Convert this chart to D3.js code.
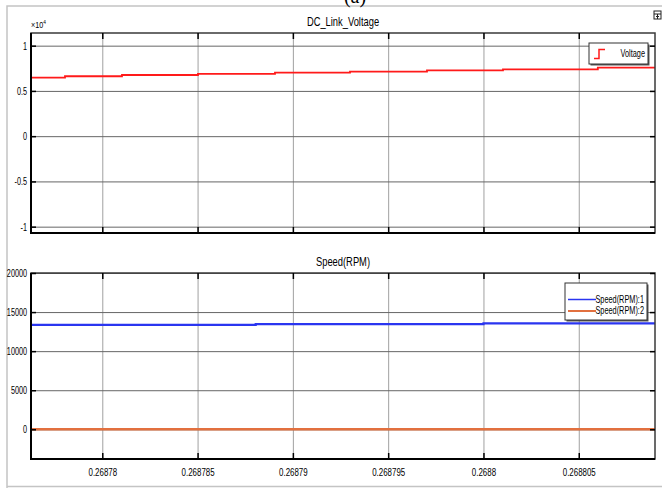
<!DOCTYPE html>
<html>
<head>
<meta charset="utf-8">
<script src="https://cdn.jsdelivr.net/npm/d3@7"></script>
<style>
  body { margin: 0; background: #fff; }
  svg { display: block; }
  text { font-family: "Liberation Sans", Arial, sans-serif; fill: #000; }
  .tick text { font-size: 11px; }
</style>
</head>
<body>
<svg width="662" height="488"></svg>
<script>
// time axis (s)
const xDomain = [0.26877626, 0.268809];
const xTicks = [0.26878, 0.268785, 0.26879, 0.268795, 0.2688, 0.268805];
const xTickLabels = ['0.26878', '0.268785', '0.26879', '0.268795', '0.2688', '0.268805'];

// DC link voltage, stepped (V)
const voltTime = [0.26877626, 0.268778043, 0.268781034, 0.268785021, 0.268789061,
  0.268792997, 0.268797036, 0.268801024, 0.268806, 0.268809];
const voltValue = [6460, 6620, 6760, 6880, 7020, 7130, 7280, 7390, 7570, 7570];
const voltTicks = [-10000, -5000, 0, 5000, 10000];
const voltTickLabels = ['-1', '-0.5', '0', '0.5', '1'];

// speed (RPM)
const speedTime = [0.26877626, 0.26878805, 0.2688, 0.268809];
const speed1 = [13350, 13450, 13560, 13560];
const speed2 = [0, 0, 0, 0];
const speedTicks = [0, 5000, 10000, 15000, 20000];
const speedTickLabels = ['0', '5000', '10000', '15000', '20000'];

const svg = d3.select('svg');

// squeeze text horizontally, the scope font is a narrow one
function condense(sel, k) {
  sel.each(function () {
    const t = d3.select(this);
    const xv = +t.attr('x') || 0;
    t.attr('x', xv / k).attr('transform', `scale(${k},1)`);
  });
}

// outer figure frame
svg.append('path')
  .attr('d', 'M7,488 V6 H662 M7,486.5 H662')
  .attr('fill', 'none')
  .attr('stroke', '#c4c4c4')
  .attr('stroke-width', 1.5);

svg.append('text')
  .attr('x', 355).attr('y', 3)
  .attr('text-anchor', 'middle')
  .style('font-family', '"Liberation Serif", serif')
  .style('font-size', '20px')
  .text('(a)');

// small icon at top right
const icon = svg.append('g').attr('transform', 'translate(654, 11)');
icon.append('rect').attr('width', 7).attr('height', 8)
  .attr('fill', '#fff').attr('stroke', '#222').attr('stroke-width', 1);
icon.append('path').attr('d', 'M0,3 H7 M3.5,3 V8 M2,5.5 H5')
  .attr('stroke', '#222').attr('stroke-width', 1);

const left = 31, right = 655;
const x = d3.scaleLinear().domain(xDomain).range([left, right]);

function panel(opts) {
  const y = d3.scaleLinear().domain(opts.yDomain).range([opts.bottom, opts.top]);
  const g = svg.append('g');
  const h = opts.bottom - opts.top;
  const w = right - left;

  // vertical grid
  g.append('g')
    .attr('transform', `translate(0,${opts.bottom})`)
    .call(d3.axisBottom(x).tickValues(xTicks).tickSize(-h).tickFormat(''))
    .call(a => a.select('.domain').remove())
    .call(a => a.selectAll('line').attr('stroke', '#a0a0a0').attr('stroke-width', 1));

  // horizontal grid
  g.append('g')
    .attr('transform', `translate(${left},0)`)
    .call(d3.axisLeft(y).tickValues(opts.yTicks).tickSize(-w).tickFormat(''))
    .call(a => a.select('.domain').remove())
    .call(a => a.selectAll('line').attr('stroke', '#666').attr('stroke-width', 1));

  // series
  opts.series.forEach(s => {
    const line = d3.line()
      .x((d, i) => x(opts.xs[i]))
      .y(d => y(d))
      .curve(d3.curveStepAfter);
    g.append('path')
      .datum(s.values)
      .attr('fill', 'none')
      .attr('stroke', s.color)
      .attr('stroke-width', s.width)
      .attr('d', line);
  });

  // box
  g.append('rect')
    .attr('x', left).attr('y', opts.top)
    .attr('width', w).attr('height', h)
    .attr('fill', 'none').attr('stroke', '#3a3a3a').attr('stroke-width', 1.5);
  g.append('path')
    .attr('d', `M${left},${opts.top} V${opts.bottom} H${right}`)
    .attr('fill', 'none').attr('stroke', '#000').attr('stroke-width', 2);

  // inward ticks
  const yAx = g.append('g')
    .attr('transform', `translate(${left},0)`)
    .call(d3.axisLeft(y).tickValues(opts.yTicks).tickSize(-5).tickPadding(4)
      .tickFormat((d, i) => opts.yTickLabels[i]));
  yAx.select('.domain').remove();
  yAx.selectAll('line').attr('stroke', '#000').attr('stroke-width', 1.5);
  condense(yAx.selectAll('text'), 0.66);

  g.append('g')
    .attr('transform', `translate(${right},0)`)
    .call(d3.axisRight(y).tickValues(opts.yTicks).tickSize(-5).tickFormat(''))
    .call(a => a.select('.domain').remove())
    .call(a => a.selectAll('line').attr('stroke', '#000').attr('stroke-width', 1.5));

  g.append('g')
    .attr('transform', `translate(0,${opts.top})`)
    .call(d3.axisTop(x).tickValues(xTicks).tickSize(-6).tickFormat(''))
    .call(a => a.select('.domain').remove())
    .call(a => a.selectAll('line').attr('stroke', '#000').attr('stroke-width', 1.5));

  const xAx = g.append('g')
    .attr('transform', `translate(0,${opts.bottom})`)
    .call(d3.axisBottom(x).tickValues(xTicks).tickSize(-6).tickPadding(9)
      .tickFormat((d, i) => opts.showX ? xTickLabels[i] : ''));
  xAx.select('.domain').remove();
  xAx.selectAll('line').attr('stroke', '#000').attr('stroke-width', 1.5);
  condense(xAx.selectAll('text'), 0.72);

  // title
  const t = svg.append('text')
    .attr('x', 343).attr('y', opts.top - 7)
    .attr('text-anchor', 'middle')
    .style('font-size', '13px')
    .text(opts.title);
  condense(t, 0.72);

  return { g, y };
}

panel({
  title: 'DC_Link_Voltage',
  top: 33, bottom: 233,
  yDomain: [-10700, 11400],
  yTicks: voltTicks, yTickLabels: voltTickLabels,
  xs: voltTime,
  series: [{ values: voltValue, color: '#ff1a1a', width: 1.8 }],
  showX: false
});

const mult = svg.append('text')
  .attr('x', 31).attr('y', 28)
  .style('font-size', '9px')
  .text('\u00d710');
mult.append('tspan')
  .attr('dy', -4)
  .style('font-size', '6px')
  .text('4');
condense(mult, 0.8);

panel({
  title: 'Speed(RPM)',
  top: 273, bottom: 459,
  yDomain: [-3800, 20000],
  yTicks: speedTicks, yTickLabels: speedTickLabels,
  xs: speedTime,
  series: [
    { values: speed1, color: '#2a35f0', width: 2.2 },
    { values: speed2, color: '#e2703f', width: 2.5 }
  ],
  showX: true
});

// legends
function legend(x0, y0, w, h, items) {
  const lg = svg.append('g').attr('transform', `translate(${x0},${y0})`);
  lg.append('rect').attr('x', 1.5).attr('y', 1.5).attr('width', w).attr('height', h)
    .attr('fill', '#555');
  lg.append('rect').attr('width', w).attr('height', h)
    .attr('fill', '#fff').attr('stroke', '#333').attr('stroke-width', 1);
  items.forEach(it => {
    const cy = it.y;
    if (it.step) {
      lg.append('path')
        .attr('d', `M5,${cy + 5} H10 V${cy - 4} H16`)
        .attr('fill', 'none').attr('stroke', it.color).attr('stroke-width', 1.5);
    } else {
      lg.append('line').attr('x1', 3).attr('x2', 31).attr('y1', cy).attr('y2', cy)
        .attr('stroke', it.color).attr('stroke-width', it.width);
    }
    const t = lg.append('text')
      .attr('x', w - 3).attr('y', cy + 3.5)
      .attr('text-anchor', 'end')
      .style('font-size', '10.5px')
      .text(it.label);
    condense(t, 0.7);
  });
}

legend(589, 43, 59, 21, [{ y: 10.5, label: 'Voltage', color: '#ff1a1a', step: true }]);
legend(565, 283, 82, 37, [
  { y: 16.5, label: 'Speed(RPM):1', color: '#2a35f0', width: 1.5 },
  { y: 28, label: 'Speed(RPM):2', color: '#e2703f', width: 2 }
]);
</script>
</body>
</html>
